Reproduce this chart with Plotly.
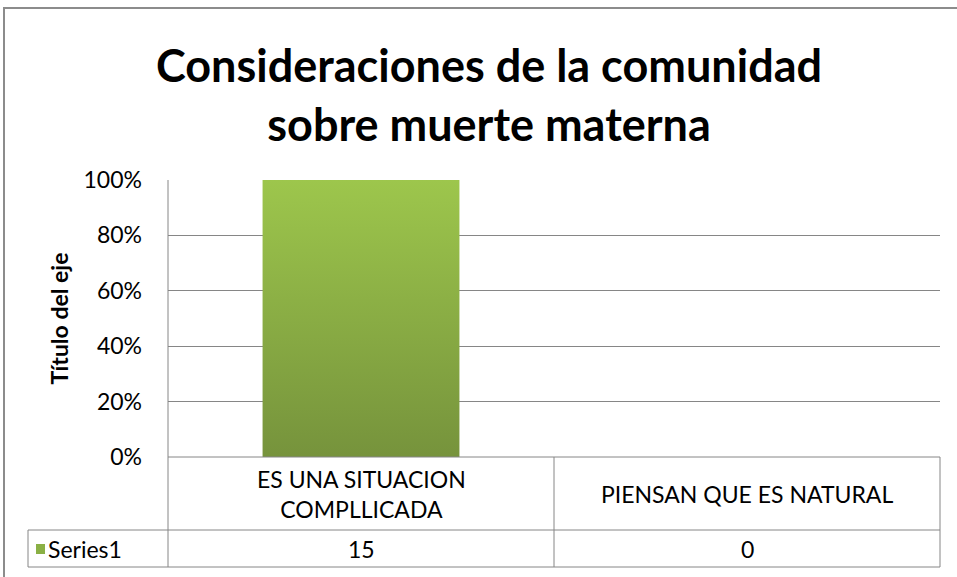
import plotly.graph_objects as go

# ---- data ----
categories = ["ES UNA SITUACION<br>COMPLLICADA", "PIENSAN QUE ES NATURAL"]
series_name = "Series1"
series_values = [15, 0]
y_tick_vals = [0, 0.2, 0.4, 0.6, 0.8, 1.0]
y_tick_text = ["0%", "20%", "40%", "60%", "80%", "100%"]
title_text = "Consideraciones de la comunidad<br>sobre muerte materna"
y_title = "Título del eje"

# 100% stacked: share of each category's total
shares = [v / v if v else 0 for v in series_values]

W, H = 957, 577
L, R, T, B = 168, 940, 180, 457  # plot area in px


def px_x(p):
    return (p - L) / (R - L)


def px_y(p):
    return (B - p) / (B - T)


FONT = "Lato"
GRID = "#868686"
LIGHT = "#9DC64C"
DARK = "#76933C"

fig = go.Figure()

bar_w = 0.51
for i, s in enumerate(shares):
    if s <= 0:
        continue
    fig.add_trace(go.Scatter(
        x=[i - bar_w / 2, i + bar_w / 2, i + bar_w / 2, i - bar_w / 2, i - bar_w / 2],
        y=[0, 0, s, s, 0],
        mode="lines", line=dict(width=0), fill="toself",
        fillgradient=dict(type="vertical", colorscale=[[0, DARK], [1, LIGHT]]),
        hoverinfo="skip", showlegend=False,
    ))

shapes = []
line = dict(color=GRID, width=1)


def seg(x0, y0, x1, y1, ln=line):
    shapes.append(dict(type="line", xref="paper", yref="paper",
                       x0=px_x(x0), y0=px_y(y0), x1=px_x(x1), y1=px_y(y1), line=ln))


# outer chart border
shapes.append(dict(type="rect", xref="paper", yref="paper",
                   x0=px_x(4), y0=px_y(8), x1=px_x(975), y1=px_y(600),
                   line=dict(color="#8C8C8C", width=2), fillcolor="rgba(0,0,0,0)", layer="below"))

# data table lines
mid = (L + R) / 2
seg(L, T, L, 567)
seg(mid, B, mid, 567)
seg(R, B, R, 567)
seg(28, 530, R, 530)
seg(28, 567, R, 567)
seg(28, 530, 28, 567)
seg(L, B, R, B)

# legend key
shapes.append(dict(type="rect", xref="paper", yref="paper",
                   x0=px_x(36), y0=px_y(544), x1=px_x(45), y1=px_y(554),
                   line=dict(width=0), fillcolor="#8AB045"))

TFS = 23
annotations = []
col_w = (R - L) / len(categories)
for i, (c, v) in enumerate(zip(categories, series_values)):
    cx = L + col_w * (i + 0.5)
    annotations.append(dict(text=c, x=px_x(cx), y=px_y(494), xref="paper", yref="paper",
                            showarrow=False, xanchor="center", yanchor="middle",
                            font=dict(family=FONT, size=TFS, color="#000")))
    annotations.append(dict(text=str(v), x=px_x(cx), y=px_y(549), xref="paper", yref="paper",
                            showarrow=False, xanchor="center", yanchor="middle",
                            font=dict(family=FONT, size=TFS, color="#000")))
annotations.append(dict(text=series_name, x=px_x(46), y=px_y(549), xref="paper", yref="paper",
                        showarrow=False, xanchor="left", yanchor="middle",
                        font=dict(family=FONT, size=TFS, color="#000")))

fig.update_layout(
    width=W, height=H,
    margin=dict(l=L, r=W - R, t=T, b=H - B),
    paper_bgcolor="white", plot_bgcolor="white",
    showlegend=False,
    title=dict(text=title_text, x=489 / W, xref="container", xanchor="center",
               y=1 - 82 / H, yref="container", yanchor="middle",
               font=dict(family=FONT, size=45, color="#000", weight="bold")),
    xaxis=dict(range=[-0.5, len(categories) - 0.5], showgrid=False, zeroline=False,
               showticklabels=False, showline=False, fixedrange=True),
    yaxis=dict(range=[0, 1], tickvals=y_tick_vals, ticktext=y_tick_text,
               showgrid=True, gridcolor=GRID, gridwidth=1, zeroline=False,
               showline=False, ticks="", ticklabelstandoff=25,
               tickfont=dict(family=FONT, size=TFS, color="#000"),
               title=dict(text=y_title, standoff=8,
                          font=dict(family=FONT, size=23, color="#000", weight="bold"))),
    shapes=shapes,
    annotations=annotations,
)

fig.write_html("out.html", config={"displayModeBar": False},
               post_script="document.body.style.margin='0';")
